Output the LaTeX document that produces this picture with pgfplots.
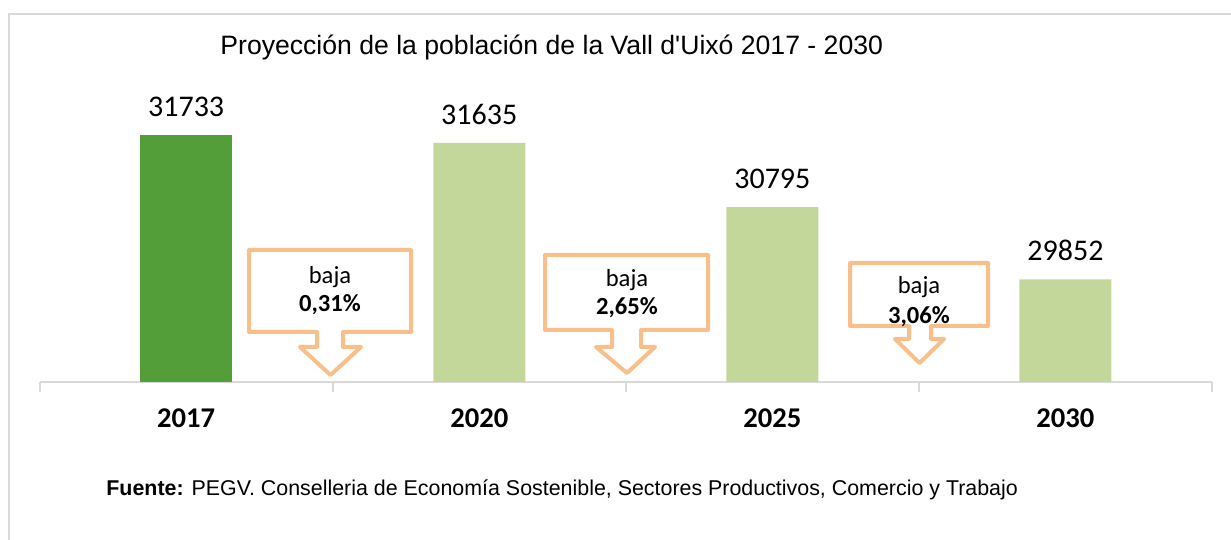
\documentclass[border=0pt]{standalone}
\usepackage{pgfplots}
\pgfplotsset{compat=1.18}
\usepackage{fontspec}
\setmainfont{Liberation Sans}
\newfontfamily\carlito{Carlito}
\definecolor{dkgreen}{HTML}{549E39}
\definecolor{ltgreen}{HTML}{C4D79B}
\definecolor{callout}{HTML}{F9BF8B}
\definecolor{axgray}{HTML}{D9D9D9}
\begin{document}
\begin{tikzpicture}
\useasboundingbox (0,0) rectangle (615.5pt,270pt);
\begin{axis}[
  at={(19.8pt,79pt)}, anchor=south west,
  scale only axis, width=586.2pt, height=150pt,
  xmin=-0.5, xmax=3.5, ymin=28510, ymax=32429,
  axis x line*=bottom, axis y line=none,
  x axis line style={axgray, line width=1pt, -},
  ybar, bar width=46pt,
  xtick={0,1,2,3}, xticklabels={2017,2020,2025,2030},
  major x tick style={draw=none},
  minor xtick={-0.5,0.5,1.5,2.5,3.5},
  minor x tick style={axgray, line width=1pt},
  minor tick length=5pt, tick align=outside,
  xticklabel style={font=\carlito\bfseries\fontsize{14.3}{16}\selectfont, anchor=north, inner sep=0pt, yshift=-9pt},
  nodes near coords,
  point meta=explicit symbolic,
  nodes near coords style={font=\carlito\fontsize{15}{17}\selectfont, anchor=south, inner sep=0pt, yshift=9pt, black},
  clip=false,
]
\addplot[fill=dkgreen, draw=none, bar shift=0pt] coordinates {(0,31733) [31733]};
\addplot[fill=ltgreen, draw=none, bar shift=0pt] coordinates {(1,31635) [31635] (2,30795) [30795] (3,29852) [29852]};
\end{axis}
\begin{scope}[x=0.5pt,y=-0.5pt,yshift=270pt]
% frame
\draw[axgray, line width=1pt] (9,540) -- (9,14) -- (1231,14);
% title
\node[anchor=west, inner sep=0pt, font=\fontsize{13.3}{15}\selectfont] at (220,47) {Proyección de la población de la Vall d\textquotesingle Uixó 2017 - 2030};
% source
\node[anchor=west, inner sep=0pt, font=\fontsize{10.7}{13}\selectfont] at (106,490) {\textbf{Fuente:} PEGV. Conselleria de Economía Sostenible, Sectores Productivos, Comercio y Trabajo};
% callouts
\begin{scope}[draw=callout, line width=2pt, line join=round]
\draw (249,250) -- (411,250) -- (411,332) -- (343,332) -- (343,347) -- (361,347) -- (330.5,375) -- (300,347) -- (317,347) -- (317,332) -- (249,332) -- cycle;
\draw (545,255) -- (708,255) -- (708,330) -- (641,330) -- (641,347) -- (655,347) -- (627,373) -- (596,347) -- (612,347) -- (612,330) -- (545,330) -- cycle;
\draw (850,263) -- (988,263) -- (988,326) -- (931,326) -- (931,339) -- (944,339) -- (919.5,363) -- (895,339) -- (909,339) -- (909,326) -- (850,326) -- cycle;
\end{scope}
\begin{scope}[font=\carlito\fontsize{12.3}{14}\selectfont]
\node at (330,277) {baja};
\node[font=\carlito\bfseries\fontsize{12.3}{14}\selectfont] at (330,305) {0,31\%};
\node at (627,280) {baja};
\node[font=\carlito\bfseries\fontsize{12.3}{14}\selectfont] at (627,308) {2,65\%};
\node at (919,287) {baja};
\node[font=\carlito\bfseries\fontsize{12.3}{14}\selectfont] at (919,317) {3,06\%};
\end{scope}
\end{scope}
\end{tikzpicture}
\end{document}
